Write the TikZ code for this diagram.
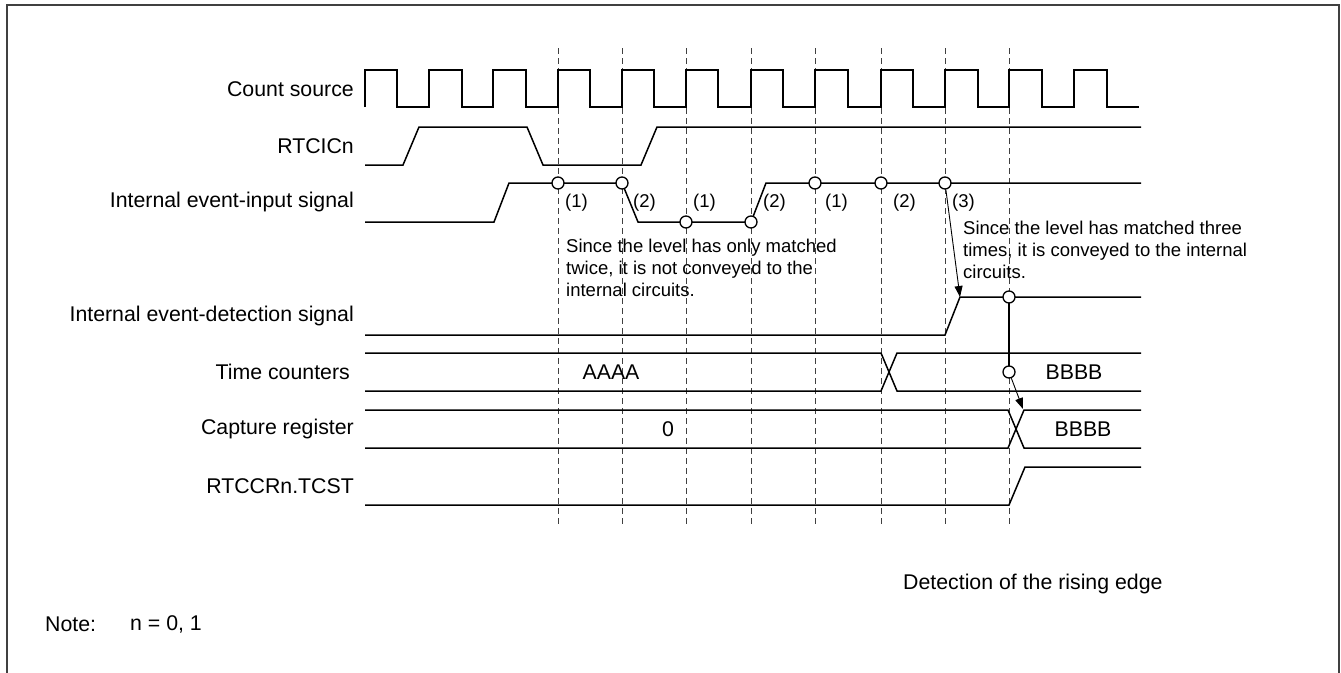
\documentclass[tikz,border=0pt]{standalone}
\usepackage{fontspec}
\setmainfont{Liberation Sans}
\usetikzlibrary{arrows.meta}
\begin{document}
\begin{tikzpicture}[x=1pt,y=-1pt,
  sig/.style={line width=1.5pt,line join=miter},
  grid/.style={dash pattern=on 6pt off 4pt,line width=0.9pt,black!75},
  lbl/.style={anchor=east,inner sep=0pt,font=\fontsize{21.3}{25}\selectfont},
  val/.style={inner sep=0pt,font=\fontsize{21.3}{25}\selectfont},
  note/.style={anchor=west,inner sep=0pt,align=left,font=\fontsize{18.5}{22}\selectfont},
  cnt/.style={anchor=west,inner sep=0pt,font=\fontsize{18.5}{22}\selectfont},
  ring/.style={circle,draw,line width=1.3pt,fill=white,minimum size=12pt,inner sep=0pt},
  arr/.style={line width=0.9pt,-{Triangle[length=11pt,width=8pt]}}]
\useasboundingbox (0,0) rectangle (1341,672);
\draw[line width=2pt,black!75] (6.5,5) rectangle (1338.5,680);
% grid lines
\foreach \x in {558,622,686,751,815,881,945,1009}
  \draw[grid] (\x,48) -- (\x,525);
% labels
\node[lbl] (lcs) at (354,89) {Count source};
\node[lbl] (lrt) at (354,146) {RTCICn};
\node[lbl] (lin) at (354,202) {Internal event-input signal};
\node[lbl] (ldet) at (354,316) {Internal event-detection signal};
\node[lbl] (ltc) at (350,372) {Time counters};
\node[lbl] (lcap) at (354,429) {Capture register};
\node[lbl] (ltcst) at (354,486) {RTCCRn.TCST};
% count source
\draw[sig] (365,107)--(365,70)--(397,70)--(397,107)--(429,107)--(429,70)--(462,70)--(462,107)--(493,107)--(493,70)--(526,70)--(526,107)--(558,107)--(558,70)--(590,70)--(590,107)--(622,107)--(622,70)--(654,70)--(654,107)--(686,107)--(686,70)--(718,70)--(718,107)--(751,107)--(751,70)--(783,70)--(783,107)--(815,107)--(815,70)--(848,70)--(848,107)--(881,107)--(881,70)--(913,70)--(913,107)--(945,107)--(945,70)--(978,70)--(978,107)--(1009,107)--(1009,70)--(1042,70)--(1042,107)--(1074,107)--(1074,70)--(1107,70)--(1107,107)--(1139,107);
% RTCICn
\draw[sig] (365,165)--(403,165)--(419,127)--(527,127)--(543,165)--(641,165)--(657,127)--(1141,127);
% internal event-input
\draw[sig] (365,222)--(494,222)--(509,183)--(622,183)--(638,222)--(751,222)--(766,183)--(1141,183);
% detection
\draw[sig] (365,335)--(945,335)--(960,297)--(1141,297);
\coordinate (detup) at (960,297);
% time counters
\draw[sig] (365,353)--(881,353)--(897,391)--(1141,391);
\draw[sig] (365,391)--(881,391)--(897,353)--(1141,353);
% capture register
\draw[sig] (365,410)--(1008,410)--(1024,448)--(1141,448);
\draw[sig] (365,448)--(1008,448)--(1024,410)--(1141,410);
\coordinate (capx) at (1023,409);
% TCST
\draw[sig] (365,505)--(1009,505)--(1025,467)--(1141,467);
% link detection -> time counters
\draw[line width=1.3pt] (1009,297) -- (1009,372);
% rings
\node[ring] (c1) at (558,183) {};
\node[ring] (c2) at (622,183) {};
\node[ring] (c3) at (686,222) {};
\node[ring] (c4) at (751,222) {};
\node[ring] (c5) at (815,183) {};
\node[ring] (c6) at (881,183) {};
\node[ring] (c7) at (945,183) {};
\node[ring] (d1) at (1009,297) {};
\node[ring] (t1) at (1009,372) {};
% arrows
\draw[arr] (c7) -- (detup);
\draw[arr] (t1) -- (capx);
% count labels
\node[cnt] (n1) at (565,203) {(1)};
\node[cnt] (n2) at (633,203) {(2)};
\node[cnt] (n3) at (693,203) {(1)};
\node[cnt] (n4) at (763,203) {(2)};
\node[cnt] (n5) at (825,203) {(1)};
\node[cnt] (n6) at (893,203) {(2)};
\node[cnt] (n7) at (952,203) {(3)};
% annotations
\node[note] (a1) at (566,268) {Since the level has only matched\\twice, it is not conveyed to the\\internal circuits.};
\node[note] (a2) at (963,250) {Since the level has matched three\\times, it is conveyed to the internal\\circuits.};
% values
\node[val] (vA) at (611,372) {AAAA};
\node[val] (v0) at (668,429) {0};
\node[val] (vB1) at (1074,372) {BBBB};
\node[val] (vB2) at (1083,429) {BBBB};
% bottom texts
\node[val,anchor=west] (det) at (903,584) {Detection of the rising edge};
\node[val,anchor=west] (nt) at (45,624) {Note:};
\node[val,anchor=west] (nv) at (130,624) {n = 0, 1};
\end{tikzpicture}
\end{document}
